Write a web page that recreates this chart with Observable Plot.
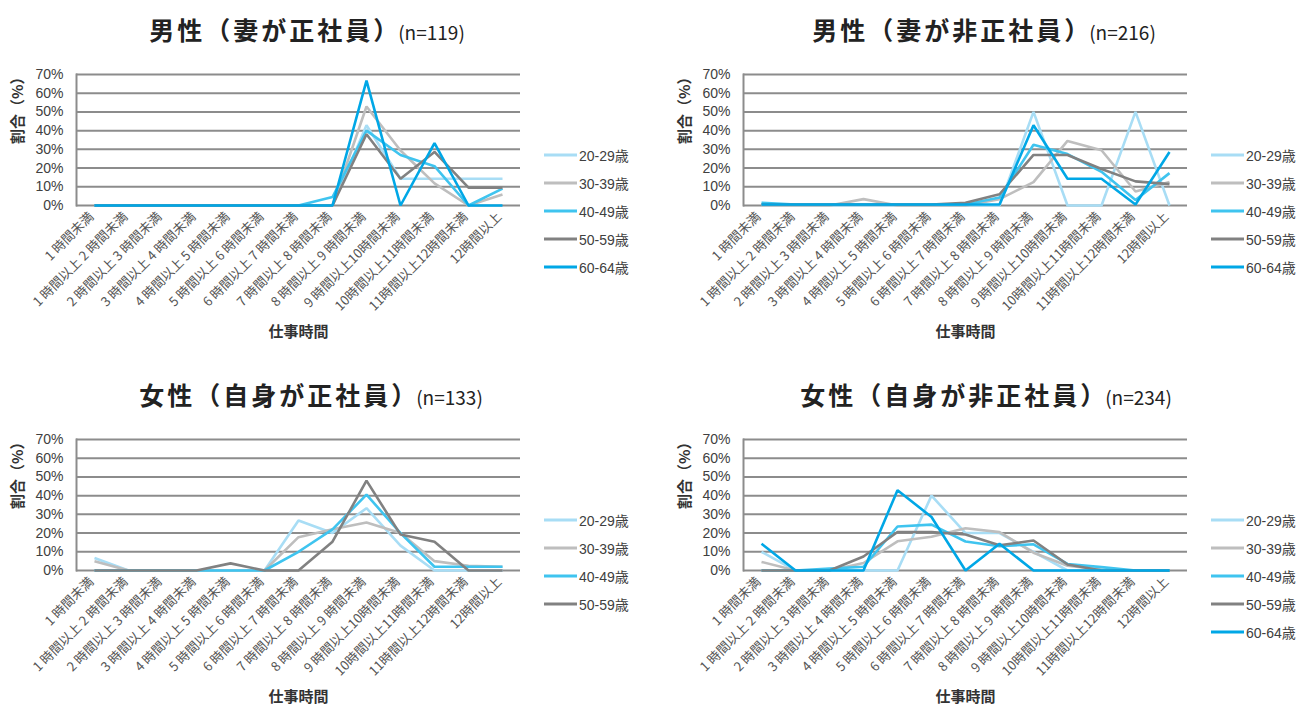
<!DOCTYPE html>
<html>
<head>
<meta charset="utf-8">
<script src="https://cdn.jsdelivr.net/npm/d3@7"></script>
<script src="https://cdn.jsdelivr.net/npm/@observablehq/plot@0.6"></script>
<style>
  html, body { margin: 0; padding: 0; background: #fff; }
  #root { position: relative; width: 1296px; height: 704px; overflow: hidden; }
  .panel { position: absolute; width: 648px; height: 352px; }
  .title { position: absolute; top: 11px; white-space: nowrap; transform: translateX(-50%); color: #222; }
  .title .main { font-family: "Noto Sans CJK JP", sans-serif; font-weight: bold; font-size: 25px; letter-spacing: 3px; }
  .title .n { font-family: "Noto Sans CJK JP", sans-serif; font-size: 19px; margin-left: -3px; }
  .legend { position: absolute; left: 544px; top: 141px; font-family: "Liberation Sans", "Noto Sans CJK JP", sans-serif; font-size: 14px; color: #404040; }
  .legend .item { height: 28px; display: flex; align-items: center; margin-top: 0; }
  .legend .item svg { margin-right: 1px; }
</style>
</head>
<body>
<div id="root"></div>
<script>
// categories (x axis)
const cats = [
  "1 時間未満",
  "1 時間以上 2 時間未満",
  "2 時間以上 3 時間未満",
  "3 時間以上 4 時間未満",
  "4 時間以上 5 時間未満",
  "5 時間以上 6 時間未満",
  "6 時間以上 7 時間未満",
  "7 時間以上 8 時間未満",
  "8 時間以上 9 時間未満",
  "9 時間以上10時間未満",
  "10時間以上11時間未満",
  "11時間以上12時間未満",
  "12時間以上"
];
const ages = ["20-29歳", "30-39歳", "40-49歳", "50-59歳", "60-64歳"];
const yTicks = [0, 10, 20, 30, 40, 50, 60, 70];

// 男性（妻が正社員）
const m1_20 = [0, 0, 0, 0, 0, 0, 0, 0, 42.9, 14.3, 14.3, 14.3, 14.3];
const m1_30 = [0, 0, 0, 0, 0, 0, 0, 0, 52.9, 29.4, 11.8, 0, 5.9];
const m1_40 = [0, 0, 0, 0, 0, 0, 0, 4.5, 40, 27, 21, 0, 9];
const m1_50 = [0, 0, 0, 0, 0, 0, 0, 0, 38.1, 14.3, 28.6, 9.5, 9.5];
const m1_60 = [0, 0, 0, 0, 0, 0, 0, 0, 66.7, 0, 33.3, 0, 0];

// 男性（妻が非正社員）
const m2_20 = [0, 0, 0, 0, 0, 0, 0, 0, 50, 0, 0, 50, 0];
const m2_30 = [0, 0, 0, 3.4, 0, 0, 0, 3.4, 12.5, 34.5, 29.5, 7.5, 12.5];
const m2_40 = [1.5, 0.5, 0.5, 0.5, 0.5, 0.5, 0.5, 4.3, 32.5, 27.5, 18, 2.9, 17.3];
const m2_50 = [0.5, 0.5, 0.5, 0.5, 0.5, 0.5, 1.5, 6, 27, 27, 19.5, 12.9, 11.4];
const m2_60 = [0.5, 0.5, 0.5, 0.5, 0.5, 0.5, 0.5, 0.5, 42.9, 14.3, 14.3, 0.5, 28.6];

// 女性（自身が正社員）
const f1_20 = [6.7, 0, 0, 0, 0, 0, 26.7, 20, 33.3, 13.3, 0, 0, 0];
const f1_30 = [5, 0, 0, 0, 0, 0, 17.8, 22, 25.6, 20, 5, 2.5, 2];
const f1_40 = [0, 0, 0, 0, 0, 0, 10, 22, 40.5, 20, 2, 2, 2];
const f1_50 = [0, 0, 0, 0, 3.8, 0, 0, 15.4, 48, 19.2, 15.4, 0, 0];

// 女性（自身が非正社員）
const f2_20 = [10, 0, 0, 0, 0, 40, 20, 20, 10, 0, 0, 0, 0];
const f2_30 = [4.6, 0, 0, 4, 15.6, 18, 22.6, 20.5, 9.5, 2.5, 0.5, 0, 0];
const f2_40 = [0, 0, 1, 2, 23.5, 24.5, 15.5, 13, 14, 3.5, 1.8, 0, 0];
const f2_50 = [0, 0, 0, 7.5, 20.6, 20.6, 19.2, 13.5, 16, 3.2, 0, 0, 0];
const f2_60 = [14.3, 0, 0, 0, 42.9, 28.6, 0, 14.3, 0, 0, 0, 0, 0];

const panels = [
  { left: 0, top: 0, titleX: 307, main: "男性（妻が正社員）", n: "(n=119)", series: [m1_20, m1_30, m1_40, m1_50, m1_60] },
  { left: 667, top: 0, titleX: 317, main: "男性（妻が非正社員）", n: "(n=216)", series: [m2_20, m2_30, m2_40, m2_50, m2_60] },
  { left: 0, top: 365, titleX: 311, main: "女性（自身が正社員）", n: "(n=133)", series: [f1_20, f1_30, f1_40, f1_50] },
  { left: 667, top: 365, titleX: 319, main: "女性（自身が非正社員）", n: "(n=234)", series: [f2_20, f2_30, f2_40, f2_50, f2_60] }
];

const colorRange = ["#a8ddf5", "#bebebe", "#3fc4ef", "#818181", "#00a7e6"];
const gridColor = "#8c8c8c";
const root = document.getElementById("root");

function drawPanel(p) {
  const used = ages.slice(0, p.series.length);
  const rows = p.series.flatMap((vals, si) => vals.map((v, i) => ({ cat: cats[i], value: v, age: ages[si] })));
  const el = document.createElement("div");
  el.className = "panel";
  el.style.left = p.left + "px";
  el.style.top = p.top + "px";

  const t = document.createElement("div");
  t.className = "title";
  t.style.left = p.titleX + "px";
  t.innerHTML = `<span class="main">${p.main}</span><span class="n">${p.n}</span>`;
  el.append(t);

  const chart = Plot.plot({
    width: 540,
    height: 292,
    marginLeft: 76,
    marginRight: 20,
    marginTop: 14,
    marginBottom: 147,
    style: { fontFamily: "'Liberation Sans', 'Noto Sans CJK JP', sans-serif", color: "#404040", background: "transparent", overflow: "visible" },
    x: { type: "point", domain: cats, padding: 0.5, label: null },
    y: { domain: [0, 70], label: null },
    color: { domain: ages, range: colorRange },
    marks: [
      Plot.ruleY(yTicks, { stroke: gridColor, strokeWidth: 2 }),
      Plot.frame({ anchor: "left", stroke: gridColor, strokeWidth: 2 }),
      Plot.axisY(yTicks, { tickSize: 0, tickPadding: 13, fontSize: 14, tickFormat: d => d + "%" }),
      Plot.axisX({ tickSize: 0, tickRotate: -45, tickPadding: 9, dx: -3, fontSize: 13, color: "#555", fontFamily: "'Noto Sans CJK JP', sans-serif" }),
      Plot.line(rows, { x: "cat", y: "value", z: "age", stroke: "age", strokeWidth: 2.6, strokeLinejoin: "miter", strokeLinecap: "butt" }),
      Plot.text(["割合（%）"], { frameAnchor: "left", rotate: -90, dx: -58, dy: 4, fontSize: 15, fontWeight: "bold", fill: "#333", fontFamily: "'Noto Sans CJK JP', sans-serif" }),
      Plot.text(["仕事時間"], { frameAnchor: "bottom", dy: 131, fontSize: 15, fontWeight: "bold", fill: "#333", fontFamily: "'Noto Sans CJK JP', sans-serif" })
    ]
  });
  chart.style.position = "absolute";
  chart.style.left = "0px";
  chart.style.top = "60px";
  el.append(chart);

  const lg = document.createElement("div");
  lg.className = "legend";
  used.forEach((a, i) => {
    const it = document.createElement("div");
    it.className = "item";
    it.innerHTML = `<svg width="34" height="6"><line x1="0" x2="33" y1="3" y2="3" stroke="${colorRange[i]}" stroke-width="3"/></svg><span>${a}</span>`;
    lg.append(it);
  });
  el.append(lg);
  root.append(el);
}

panels.forEach(drawPanel);
</script>
</body>
</html>
